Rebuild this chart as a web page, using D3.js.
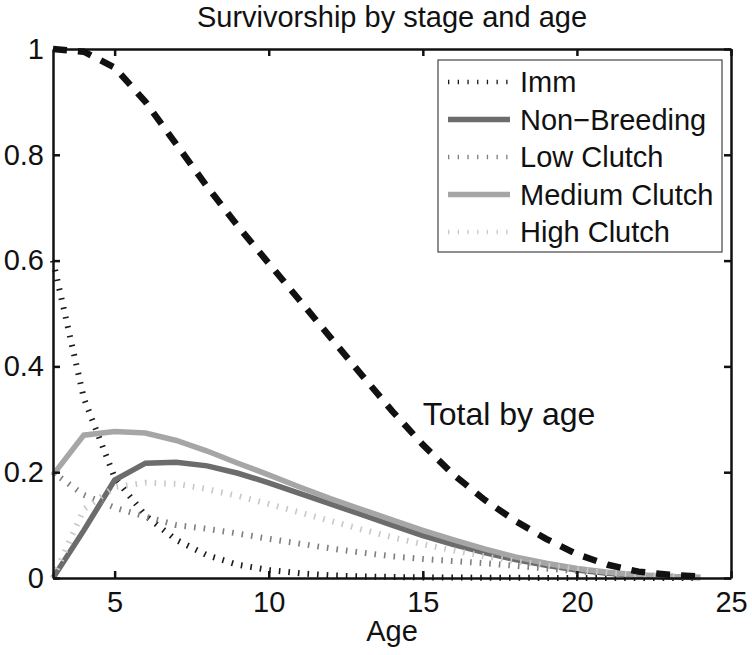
<!DOCTYPE html>
<html>
<head>
<meta charset="utf-8">
<script src="https://cdn.jsdelivr.net/npm/d3@7"></script>
<style>
  html, body { margin: 0; padding: 0; background: #fff; }
  svg { display: block; font-family: "Liberation Sans", Arial, Helvetica, sans-serif; }
</style>
</head>
<body>
<svg id="chart" width="752" height="655"></svg>
<script>
// ---- Data ----
const ages = [3,4,5,6,7,8,9,10,11,12,13,14,15,16,17,18,19,20,21,22,23,24];
const imm = [0.60,0.34,0.19,0.118,0.072,0.043,0.025,0.015,0.009,0.005,0.003,0.002,0.001,0.001,0.0005,0.0003,0.0002,0.0001,0.0001,0,0,0];
const nonBreeding = [0,0.09,0.185,0.217,0.219,0.212,0.198,0.18,0.16,0.14,0.12,0.1,0.08,0.063,0.048,0.035,0.024,0.015,0.009,0.005,0.002,0.001];
const lowClutch = [0.2,0.157,0.133,0.116,0.1,0.093,0.084,0.074,0.065,0.056,0.048,0.041,0.036,0.032,0.028,0.023,0.018,0.013,0.009,0.005,0.003,0.001];
const mediumClutch = [0.195,0.27,0.277,0.274,0.26,0.24,0.217,0.195,0.172,0.15,0.13,0.11,0.09,0.072,0.055,0.04,0.028,0.018,0.011,0.006,0.003,0.001];
const highClutch = [0,0.13,0.172,0.18,0.178,0.168,0.155,0.14,0.124,0.108,0.092,0.077,0.064,0.052,0.041,0.032,0.024,0.016,0.01,0.006,0.003,0.001];
const totalByAge = [1.0,0.995,0.965,0.9,0.82,0.74,0.665,0.595,0.525,0.455,0.385,0.316,0.252,0.195,0.148,0.108,0.074,0.045,0.025,0.012,0.006,0.003];

const xTicks = [5,10,15,20,25];
const yTicks = [0,0.2,0.4,0.6,0.8,1];
const yTickLabels = ["0","0.2","0.4","0.6","0.8","1"];

const titleText = "Survivorship by stage and age";
const xLabel = "Age";
const annotation = "Total by age";

const seriesNames = ["Imm","Non\u2212Breeding","Low Clutch","Medium Clutch","High Clutch"];

// ---- Layout ----
const W = 752, H = 655;
const margin = {left: 53, right: 21, top: 49, bottom: 77};
const svg = d3.select("#chart");

const x = d3.scaleLinear().domain([3,25]).range([margin.left, W - margin.right]);
const y = d3.scaleLinear().domain([0,1]).range([H - margin.bottom, margin.top]);

const styles = [
  {data: imm,          color: "#1a1a1a", width: 6,   dash: "1.6,8"},
  {data: nonBreeding,  color: "#6c6c6c", width: 5.5, dash: null},
  {data: lowClutch,    color: "#7e7e7e", width: 6,   dash: "1.6,8"},
  {data: mediumClutch, color: "#a6a6a6", width: 5.5, dash: null},
  {data: highClutch,   color: "#c8c8c8", width: 6,   dash: "1.6,8"}
];

const line = d3.line().x((d,i) => x(ages[i])).y(d => y(d));

const plot = svg.append("g");
styles.forEach(s => {
  plot.append("path")
    .datum(s.data)
    .attr("d", line)
    .attr("fill", "none")
    .attr("stroke", s.color)
    .attr("stroke-width", s.width)
    .attr("stroke-linejoin", "miter")
    .attr("stroke-linecap", "butt")
    .attr("stroke-dasharray", s.dash);
});
plot.append("path")
  .datum(totalByAge)
  .attr("d", line)
  .attr("fill", "none")
  .attr("stroke", "#111")
  .attr("stroke-width", 6.5)
  .attr("stroke-linecap", "butt")
  .attr("stroke-dasharray", "14,11");

// ---- Axes (box with inward ticks) ----
const tickLen = 7;
const axisColor = "#111";
const fontSize = 29;

const gBottom = svg.append("g").attr("transform", `translate(0,${y(0)})`)
  .call(d3.axisBottom(x).tickValues(xTicks).tickSizeInner(-tickLen).tickSizeOuter(0).tickPadding(13));
const gTop = svg.append("g").attr("transform", `translate(0,${y(1)})`)
  .call(d3.axisTop(x).tickValues(xTicks).tickSizeInner(-tickLen).tickSizeOuter(0).tickFormat(""));
const gLeft = svg.append("g").attr("transform", `translate(${x(3)},0)`)
  .call(d3.axisLeft(y).tickValues(yTicks).tickSizeInner(-tickLen).tickSizeOuter(0).tickPadding(9)
    .tickFormat((d,i) => yTickLabels[i]));
const gRight = svg.append("g").attr("transform", `translate(${x(25)},0)`)
  .call(d3.axisRight(y).tickValues(yTicks).tickSizeInner(-tickLen).tickSizeOuter(0).tickFormat(""));

[gBottom, gTop, gLeft, gRight].forEach(g => {
  g.select(".domain").attr("stroke", axisColor).attr("stroke-width", 2.5);
  g.selectAll(".tick line").attr("stroke", axisColor).attr("stroke-width", 2.5);
  g.selectAll(".tick text").attr("fill", "#111").style("font-size", fontSize + "px")
    .style("font-family", "'Liberation Sans', Arial, sans-serif");
});
gBottom.selectAll(".tick text").attr("dy", "0.71em");

// ---- Title & labels ----
svg.append("text")
  .attr("x", (x(3) + x(25)) / 2).attr("y", 27)
  .attr("text-anchor", "middle")
  .attr("fill", "#111").style("font-size", fontSize + "px")
  .text(titleText);

svg.append("text")
  .attr("x", (x(3) + x(25)) / 2).attr("y", 641)
  .attr("text-anchor", "middle")
  .attr("fill", "#111").style("font-size", fontSize + "px")
  .text(xLabel);

svg.append("text")
  .attr("x", x(15)).attr("y", y(0.29))
  .attr("fill", "#111").style("font-size", "32px")
  .text(annotation);

// ---- Legend ----
const legend = svg.append("g");
const lgX = 438, lgY = 60, lgW = 284, lgH = 192;
legend.append("rect")
  .attr("x", lgX).attr("y", lgY).attr("width", lgW).attr("height", lgH)
  .attr("fill", "#fff").attr("stroke", "#444").attr("stroke-width", 1.2);

const rowY = d3.scaleLinear().domain([0, seriesNames.length - 1]).range([lgY + 22, lgY + 172]);
seriesNames.forEach((name, i) => {
  const s = styles[i];
  const yy = rowY(i);
  legend.append("line")
    .attr("x1", 448).attr("x2", 510).attr("y1", yy).attr("y2", yy)
    .attr("stroke", s.color)
    .attr("stroke-width", s.dash ? 4.5 : 5.5)
    .attr("stroke-dasharray", s.dash ? "1.3,8.4" : null);
  legend.append("text")
    .attr("x", 520).attr("y", yy).attr("dy", "0.36em")
    .attr("fill", "#111").style("font-size", fontSize + "px")
    .text(name);
});
</script>
</body>
</html>
